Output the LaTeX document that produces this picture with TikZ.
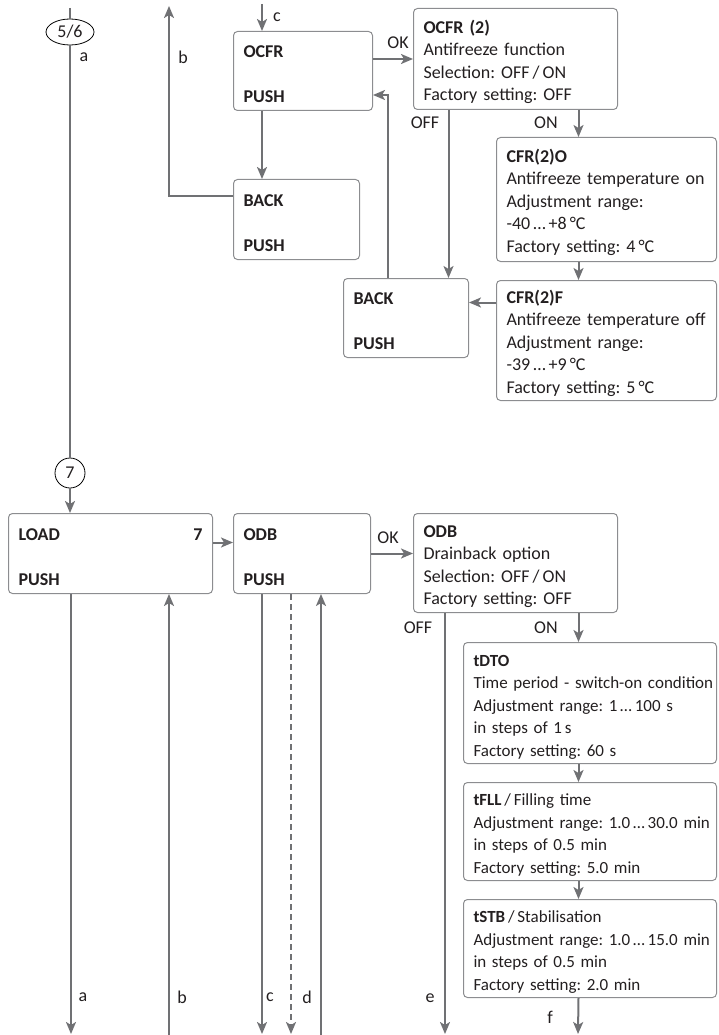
\documentclass[tikz,border=0pt]{standalone}
\usepackage{fontspec}
\setmainfont{Carlito}[WordSpace=0.85]
\usetikzlibrary{arrows.meta,positioning,shapes.geometric}
\definecolor{linegray}{RGB}{112,113,116}
\definecolor{boxgray}{RGB}{140,141,144}
\definecolor{txt}{RGB}{35,31,32}
\newcommand{\diagfont}{\fontsize{18}{22.5}\selectfont\frenchspacing}
\newcommand{\smallfont}{\fontsize{17}{22.5}\selectfont\frenchspacing}
\tikzset{
  menu/.style={draw=boxgray, line width=1pt, rounded corners=4pt, anchor=north west,
    align=left, inner xsep=10pt, inner ysep=0pt, text=txt, font=\diagfont\bfseries,
    execute at begin node={\rule{0pt}{19pt}}},
  info/.style={draw=boxgray, line width=1pt, rounded corners=4pt, anchor=north west,
    align=left, inner xsep=10pt, inner ysep=0pt, text=txt,
    execute at begin node={\rule{0pt}{19pt}}},
  narrow/.style={font=\smallfont},
  flow/.style={draw=linegray, line width=2pt, -{Stealth[length=12pt,width=10pt,inset=3pt]}},
  line/.style={draw=linegray, line width=2pt},
  lbl/.style={text=txt, inner sep=0pt},
  marker/.style={draw=black, line width=0.8pt, inner sep=0pt, text=txt}
}
\begin{document}
\begin{tikzpicture}[x=1pt, y=-1pt, font=\diagfont]
    \useasboundingbox (0,0) rectangle (718,1035);

    % Antifreeze branch
    \node[marker, ellipse, minimum width=48pt, minimum height=26pt] (m56) at (70,32) {5/6};
    \node[menu, text width=119pt, minimum height=79pt] (ocfr) at (233,31) {OCFR\\[22.5pt]PUSH};
    \node[menu, text width=106pt, minimum height=80pt] (back1) at (233,179) {BACK\\[22.5pt]PUSH};
    \node[info, text width=184pt, minimum height=101pt] (ocfr2) at (413,8)
        {\textbf{OCFR (2)}\\Antifreeze function\\Selection: OFF\,/\,ON\\Factory setting: OFF};
    \node[info, text width=200pt, minimum height=124pt] (cfro) at (496,137)
        {\textbf{CFR(2)O}\\\mbox{Antifreeze temperature on}\\Adjustment range:\\-40\,…\,+8\,°C\\Factory setting: 4\,°C};
    \node[info, text width=200pt, minimum height=120pt] (cfrf) at (496,280)
        {\textbf{CFR(2)F}\\\mbox{Antifreeze temperature off}\\Adjustment range:\\-39\,…\,+9\,°C\\Factory setting: 5\,°C};
    \node[menu, text width=105pt, minimum height=79pt] (back2) at (343,278) {BACK\\[22.5pt]PUSH};

    % Drainback branch
    \node[marker, circle, minimum size=30pt] (m7) at (70,473) {7};
    \node[menu, text width=184pt, minimum height=80pt] (load) at (8,513) {LOAD\hfill 7\hspace*{14pt}\\[22.5pt]PUSH};
    \node[menu, text width=117pt, minimum height=80pt] (odb) at (233,513) {ODB\\[22.5pt]PUSH};
    \node[info, text width=184pt, minimum height=99pt] (odb2) at (413,513)
        {\textbf{ODB}\\Drainback option\\Selection: OFF\,/\,ON\\Factory setting: OFF};
    \node[info, narrow, text width=233pt, minimum height=121pt] (tdto) at (463,642)
        {\textbf{tDTO}\\\mbox{Time period - switch-on condition}\\Adjustment range: 1\,…\,100 s\\in steps of 1\,s\\Factory setting: 60 s};
    \node[info, narrow, text width=233pt, minimum height=98pt] (tfll) at (463,782)
        {\textbf{tFLL}\,/\,Filling time\\\mbox{Adjustment range: 1.0\,…\,30.0 min}\\in steps of 0.5 min\\Factory setting: 5.0 min};
    \node[info, narrow, text width=233pt, minimum height=98pt] (tstb) at (463,899)
        {\textbf{tSTB}\,/\,Stabilisation\\\mbox{Adjustment range: 1.0\,…\,15.0 min}\\in steps of 0.5 min\\Factory setting: 2.0 min};

    % Free ends
    \coordinate (atop) at (70,8);
    \coordinate (btop) at (169,6);
    \coordinate (ctop) at (262,4);
    \coordinate (aend) at (71,1034);
    \coordinate (bend) at (169,1035);
    \coordinate (cend) at (262,1034);
    \coordinate (dend) at (291,1034);
    \coordinate (uend) at (321,1035);
    \coordinate (eend) at (445,1034);
    \coordinate (fend) at (578,1034);
    \coordinate (offa) at ([xshift=-67pt]ocfr2.south);
    \coordinate (ona) at ([xshift=63pt]ocfr2.south);
    \coordinate (fin) at ([yshift=38pt]cfrf.west);
    \coordinate (onb) at ([xshift=63pt]odb2.south);

    % Main line
    \draw[line] (atop) -- (m56);
    \draw[line] (m56) -- (m7);
    \draw[flow] (m7.south) -- (m7.south |- load.north);

    % Antifreeze connectors
    \draw[flow] (ctop) -- (ctop |- ocfr.north);
    \draw[flow] (ocfr.east |- ocfr2.west) -- (ocfr2.west) node[midway, above=9pt, xshift=5pt, lbl] (ok1) {OK};
    \draw[flow] (ctop |- ocfr.south) -- (ctop |- back1.north);
    \draw[flow] ([yshift=24pt]back1.west) -| (btop);
    \draw[flow] ([xshift=-18.5pt]back2.north) |- ([yshift=-24pt]ocfr.east);
    \draw[flow] (offa) -- (offa |- back2.north);
    \draw[flow] (ona) -- (ona |- cfro.north);
    \draw[flow] (ona |- cfro.south) -- (ona |- cfrf.north);
    \draw[flow] (fin) -- (fin -| back2.east);

    % Drainback connectors
    \draw[flow] ([yshift=11pt]load.east) -- ([yshift=11pt]odb.west);
    \draw[flow] (odb.east) -- (odb.east -| odb2.west) node[midway, above=9pt, xshift=-4pt, lbl] (ok2) {OK};
    \draw[flow] (aend |- load.south) -- (aend);
    \draw[flow] (bend) -- (bend |- load.south);
    \draw[flow] (cend |- odb.south) -- (cend);
    \draw[flow, dash pattern=on 6pt off 4pt] (dend |- odb.south) -- (dend);
    \draw[flow] (uend) -- (uend |- odb.south);
    \draw[flow] (eend |- odb2.south) -- (eend);
    \draw[flow] (onb) -- (onb |- tdto.north);
    \draw[flow] (onb |- tdto.south) -- (onb |- tfll.north);
    \draw[flow] (onb |- tfll.south) -- (onb |- tstb.north);
    \draw[flow] (onb |- tstb.south) -- (fend);

    % Labels
    \node[lbl] (la1) at (84,57) {a};
    \node[lbl] (lb1) at (183,57) {b};
    \node[lbl] (lc1) at (277,17) {c};
    \node[lbl] (loff1) at (425,123) {OFF};
    \node[lbl] (lon1) at (546,123) {ON};
    \node[lbl] (loff2) at (418,628) {OFF};
    \node[lbl] (lon2) at (546,628) {ON};
    \node[lbl] (la2) at (83,997) {a};
    \node[lbl] (lb2) at (182,997) {b};
    \node[lbl] (lc2) at (270,997) {c};
    \node[lbl] (ld2) at (307,997) {d};
    \node[lbl] (le2) at (430,998) {e};
    \node[lbl] (lf2) at (550,1017) {f};
\end{tikzpicture}
\end{document}
